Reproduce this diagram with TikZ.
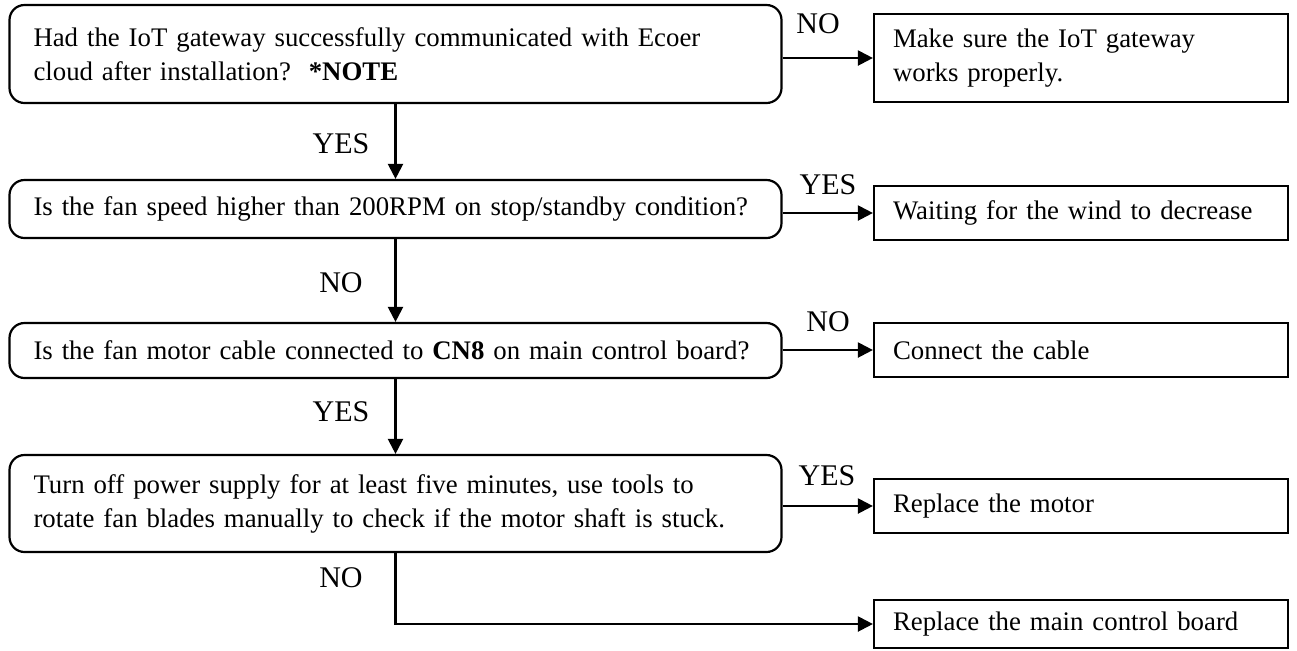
\documentclass[tikz,border=0pt]{standalone}
\usepackage{fontspec}
\setmainfont{Liberation Serif}
\usetikzlibrary{arrows.meta, positioning}

\begin{document}
\begin{tikzpicture}[
  x=0.5pt, y=-0.5pt,
  >={Triangle[length=7.5pt,width=7.5pt]},
  line width=1.1pt,
  every node/.style={font=\fontsize{13.4}{17}\selectfont},
  ask/.style={draw, rounded corners=7.5pt, align=left, inner xsep=12pt, inner ysep=0pt, text width=362pt},
  todo/.style={draw, align=left, inner xsep=9.5pt, inner ysep=0pt, text width=188pt},
  lbl/.style={inner sep=0pt, font=\fontsize{15}{18}\selectfont}
]
\useasboundingbox (0,0) rectangle (1297,650);

% questions
\node[ask, minimum height=49pt] (q1) at (395.5,54) {Had the IoT gateway successfully communicated with Ecoer\\cloud after installation?\ \ \textbf{*NOTE}};
\node[ask, minimum height=29pt] (q2) at (395.5,209) {Is the fan speed higher than 200RPM on stop/standby condition?};
\node[ask, minimum height=27.5pt] (q3) at (395.5,350.5) {Is the fan motor cable connected to \textbf{CN8} on main control board?};
\node[ask, minimum height=48.5pt] (q4) at (395.5,503.5) {Turn off power supply for at least five minutes, use tools to\\rotate fan blades manually to check if the motor shaft is stuck.};

% actions
\node[todo, minimum height=44pt] (a1) at (1081,58) {Make sure the IoT gateway\\works properly.};
\node[todo, minimum height=27pt] (a2) at (1081,213) {Waiting for the wind to decrease};
\node[todo, minimum height=27pt] (a3) at (1081,350) {Connect the cable};
\node[todo, minimum height=27pt] (a4) at (1081,506) {Replace the motor};
\node[todo, minimum height=24pt] (a5) at (1081,624) {Replace the main control board};

% connectors
\draw[->] (q1) -- (q2);
\draw[->] (q2) -- (q3);
\draw[->] (q3) -- (q4);
\draw[->] (q4.south) |- (a5.west);
\draw[->] (q1.east |- a1.west) -- (a1.west);
\draw[->] (q2.east |- a2.west) -- (a2.west);
\draw[->] (q3.east |- a3.west) -- (a3.west);
\draw[->] (q4.east |- a4.west) -- (a4.west);

% labels
\node[lbl] (y1) at (341,144) {YES};
\node[lbl] (n2) at (341,283) {NO};
\node[lbl] (y3) at (341,412) {YES};
\node[lbl] (n4) at (341,578) {NO};
\node[lbl] (n1) at (818,24) {NO};
\node[lbl] (y2) at (828,185) {YES};
\node[lbl] (n3) at (828,322) {NO};
\node[lbl] (y4) at (827,476) {YES};
\end{tikzpicture}
\end{document}
